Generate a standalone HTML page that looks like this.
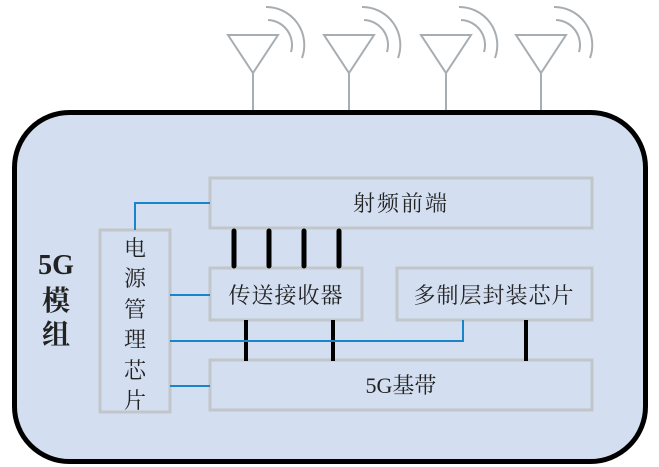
<!DOCTYPE html>
<html><head><meta charset="utf-8"><style>
html,body{margin:0;padding:0;background:#fff;}
svg{display:block;}
text{font-family:"Liberation Serif","Noto Serif CJK SC","Noto Sans CJK SC",serif;fill:#222;}
</style></head><body>
<svg width="659" height="467" viewBox="0 0 659 467" xmlns="http://www.w3.org/2000/svg">
<defs>
<g id="ant" fill="none" stroke="#a8adb2" stroke-width="2">
<path d="M-25,35 L25,35 L0,73 Z"/>
<line x1="0" y1="73" x2="0" y2="112"/>
<path d="M15,20 A25,25 0 0 1 38,52"/>
<path d="M13,7 A38,38 0 0 1 49,58"/>
</g>
</defs>
<use href="#ant" x="253"/>
<use href="#ant" x="349"/>
<use href="#ant" x="446"/>
<use href="#ant" x="541"/>
<rect x="14.5" y="112.5" width="631" height="349" rx="55" ry="55" fill="#d3dff0" stroke="#000" stroke-width="5"/>
<g fill="none" stroke="#c2c5c9" stroke-width="3">
<rect x="210" y="178" width="382" height="50"/>
<rect x="210" y="268" width="152" height="52"/>
<rect x="397" y="268" width="195" height="52"/>
<rect x="210" y="360" width="382" height="50"/>
<rect x="100" y="230" width="70" height="182"/>
</g>
<g stroke="#000" stroke-width="5" stroke-linecap="round">
<line x1="234" y1="231" x2="234" y2="266"/>
<line x1="269" y1="231" x2="269" y2="266"/>
<line x1="304" y1="231" x2="304" y2="266"/>
<line x1="339" y1="231" x2="339" y2="266"/>
</g>
<g stroke="#000" stroke-width="4">
<line x1="246" y1="320" x2="246" y2="361"/>
<line x1="333" y1="320" x2="333" y2="361"/>
<line x1="526" y1="320" x2="526" y2="361"/>
</g>
<g fill="none" stroke="#1a84c8" stroke-width="2">
<path d="M135,230 V203 H210"/>
<path d="M170,295 H210"/>
<path d="M170,341 H463 V320"/>
<path d="M170,386 H210"/>
</g>
<g font-size="22">
<text x="401" y="211" text-anchor="middle" letter-spacing="2">射频前端</text>
<text x="286" y="303" text-anchor="middle" letter-spacing="1">传送接收器</text>
<text x="494" y="303" text-anchor="middle" letter-spacing="1">多制层封装芯片</text>
<text x="401" y="393" text-anchor="middle">5G基带</text>
<text x="135" y="256" text-anchor="middle">电</text>
<text x="135" y="286" text-anchor="middle">源</text>
<text x="135" y="317" text-anchor="middle">管</text>
<text x="135" y="347" text-anchor="middle">理</text>
<text x="135" y="378" text-anchor="middle">芯</text>
<text x="135" y="408" text-anchor="middle">片</text>
</g>
<g font-size="28" font-weight="bold">
<text x="56" y="274" text-anchor="middle">5G</text>
<text x="56" y="310" text-anchor="middle">模</text>
<text x="56" y="344" text-anchor="middle">组</text>
</g>
</svg>
</body></html>
